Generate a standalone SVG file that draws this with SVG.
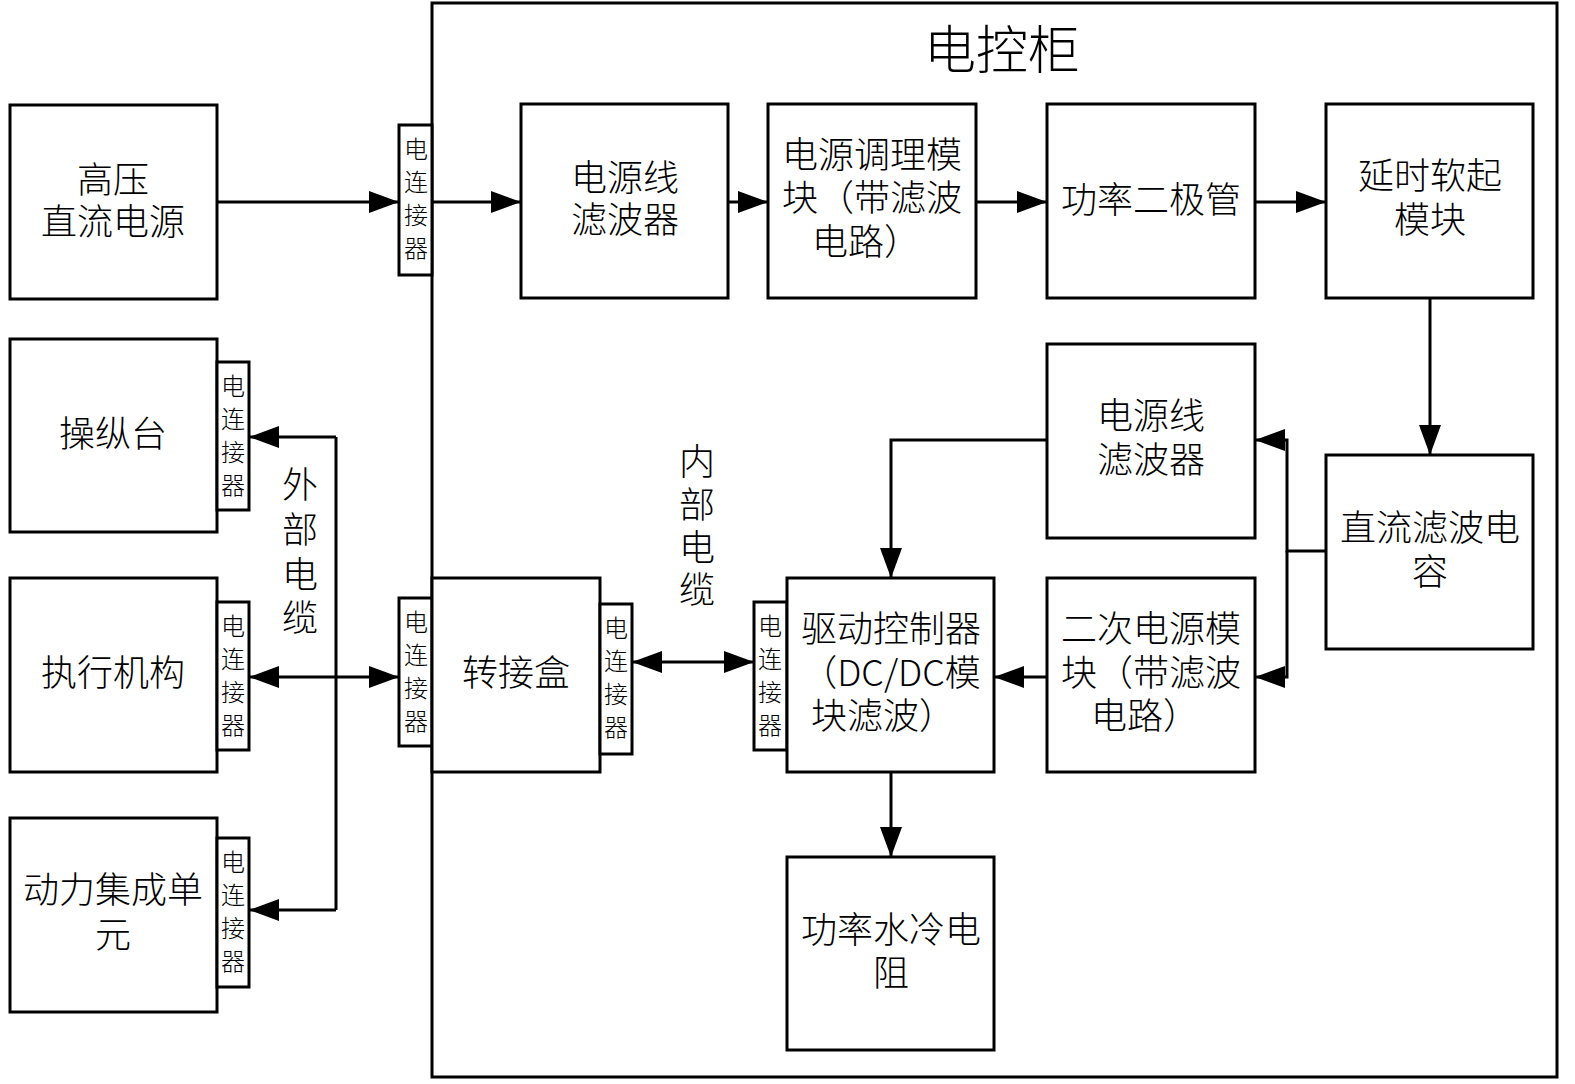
<svg xmlns="http://www.w3.org/2000/svg" width="1575" height="1084" viewBox="0 0 1575 1084">
<defs>
<marker id="arr" markerUnits="userSpaceOnUse" markerWidth="32" markerHeight="24" refX="30" refY="11" orient="auto-start-reverse">
<path d="M0,0 L30,11 L0,22 z" fill="#000"/>
</marker>
<style>
.box{fill:#fff;stroke:#000;stroke-width:3}
.cab{fill:none;stroke:#000;stroke-width:3}
.t{font-family:"Noto Sans CJK SC","Noto Sans CJK JP",sans-serif;font-size:36px;font-weight:300;text-anchor:middle;fill:#000}
.c{font-family:"Noto Sans CJK SC","Noto Sans CJK JP",sans-serif;font-size:24px;font-weight:300;text-anchor:middle;fill:#000}
.ln{fill:none;stroke:#000;stroke-width:3}
.a{fill:none;stroke:#000;stroke-width:3;marker-end:url(#arr)}
.aa{fill:none;stroke:#000;stroke-width:3;marker-end:url(#arr);marker-start:url(#arr)}
</style>
</defs>
<rect width="1575" height="1084" fill="#fff"/>

<g id="cabinet">
<rect class="cab" x="432" y="3" width="1125" height="1074"/>
<text class="t" x="1002" y="69" style="font-size:52px">电控柜</text>
</g>

<g id="connectors">
<path class="a" d="M217,202 H399"/>
<path class="a" d="M432,202 H521"/>
<path class="a" d="M728,202 H768"/>
<path class="a" d="M976,202 H1047"/>
<path class="a" d="M1255,202 H1326"/>
<path class="a" d="M1430,298 V455"/>
<path class="a" d="M1326,551 H1287 V440 H1255"/>
<path class="a" d="M1287,551 V677 H1255"/>
<path class="a" d="M1047,440 H891 V578"/>
<path class="a" d="M1047,677 H994"/>
<path class="a" d="M891,772 V857"/>
<path class="aa" d="M632,662 H754"/>
<path class="ln" d="M336,437 V910"/>
<path class="a" d="M336,437 H249"/>
<path class="a" d="M336,910 H249"/>
<path class="aa" d="M249,677 H399"/>
</g>

<g id="hv">
<rect class="box" x="10" y="105" width="207" height="194"/>
<text class="t"><tspan x="113" y="193">高压</tspan><tspan x="113" y="235">直流电源</tspan></text>
</g>

<g id="conn1">
<rect class="box" x="399" y="125" width="33" height="150"/>
<text class="c"><tspan x="416" y="158">电</tspan><tspan x="416" y="191">连</tspan><tspan x="416" y="224">接</tspan><tspan x="416" y="257">器</tspan></text>
</g>

<g id="filter1">
<rect class="box" x="521" y="104" width="207" height="194"/>
<text class="t"><tspan x="625" y="191">电源线</tspan><tspan x="625" y="233">滤波器</tspan></text>
</g>

<g id="cond">
<rect class="box" x="768" y="104" width="208" height="194"/>
<text class="t"><tspan x="872" y="168">电源调理模</tspan><tspan x="872" y="211">块（带滤波</tspan><tspan x="866" y="255">电路）</tspan></text>
</g>

<g id="diode">
<rect class="box" x="1047" y="104" width="208" height="194"/>
<text class="t" x="1151" y="213">功率二极管</text>
</g>

<g id="soft">
<rect class="box" x="1326" y="104" width="207" height="194"/>
<text class="t"><tspan x="1430" y="189">延时软起</tspan><tspan x="1430" y="233">模块</tspan></text>
</g>

<g id="filter2">
<rect class="box" x="1047" y="344" width="208" height="194"/>
<text class="t"><tspan x="1151" y="429">电源线</tspan><tspan x="1151" y="473">滤波器</tspan></text>
</g>

<g id="cap">
<rect class="box" x="1326" y="455" width="207" height="194"/>
<text class="t"><tspan x="1430" y="541">直流滤波电</tspan><tspan x="1430" y="585">容</tspan></text>
</g>

<g id="console">
<rect class="box" x="10" y="339" width="207" height="193"/>
<text class="t" x="113" y="447">操纵台</text>
<rect class="box" x="217" y="362" width="32" height="148"/>
<text class="c"><tspan x="233" y="395">电</tspan><tspan x="233" y="428">连</tspan><tspan x="233" y="461">接</tspan><tspan x="233" y="494">器</tspan></text>
</g>

<g id="actuator">
<rect class="box" x="10" y="578" width="207" height="194"/>
<text class="t" x="113" y="686">执行机构</text>
<rect class="box" x="217" y="602" width="32" height="148"/>
<text class="c"><tspan x="233" y="635">电</tspan><tspan x="233" y="668">连</tspan><tspan x="233" y="701">接</tspan><tspan x="233" y="734">器</tspan></text>
</g>

<g id="power">
<rect class="box" x="10" y="818" width="207" height="194"/>
<text class="t"><tspan x="113" y="903">动力集成单</tspan><tspan x="113" y="948">元</tspan></text>
<rect class="box" x="217" y="838" width="32" height="149"/>
<text class="c"><tspan x="233" y="871">电</tspan><tspan x="233" y="904">连</tspan><tspan x="233" y="937">接</tspan><tspan x="233" y="970">器</tspan></text>
</g>

<g id="extlabel">
<text class="t"><tspan x="300" y="498">外</tspan><tspan x="300" y="543">部</tspan><tspan x="300" y="588">电</tspan><tspan x="300" y="631">缆</tspan></text>
</g>

<g id="conn2">
<rect class="box" x="399" y="598" width="33" height="148"/>
<text class="c"><tspan x="416" y="631">电</tspan><tspan x="416" y="664">连</tspan><tspan x="416" y="697">接</tspan><tspan x="416" y="730">器</tspan></text>
</g>

<g id="junction">
<rect class="box" x="432" y="578" width="168" height="194"/>
<text class="t" x="516" y="686">转接盒</text>
<rect class="box" x="600" y="604" width="32" height="150"/>
<text class="c"><tspan x="616" y="637">电</tspan><tspan x="616" y="670">连</tspan><tspan x="616" y="703">接</tspan><tspan x="616" y="736">器</tspan></text>
</g>

<g id="intlabel">
<text class="t"><tspan x="697" y="475">内</tspan><tspan x="697" y="518">部</tspan><tspan x="697" y="561">电</tspan><tspan x="697" y="603">缆</tspan></text>
</g>

<g id="driver">
<rect class="box" x="754" y="602" width="33" height="148"/>
<text class="c"><tspan x="770" y="635">电</tspan><tspan x="770" y="668">连</tspan><tspan x="770" y="701">接</tspan><tspan x="770" y="734">器</tspan></text>
<rect class="box" x="787" y="578" width="207" height="194"/>
<text class="t"><tspan x="891" y="642">驱动控制器</tspan><tspan x="891" y="686">（DC/DC模</tspan><tspan x="883" y="729">块滤波）</tspan></text>
</g>

<g id="secondary">
<rect class="box" x="1047" y="578" width="208" height="194"/>
<text class="t"><tspan x="1151" y="642">二次电源模</tspan><tspan x="1151" y="686">块（带滤波</tspan><tspan x="1145" y="729">电路）</tspan></text>
</g>

<g id="resistor">
<rect class="box" x="787" y="857" width="207" height="193"/>
<text class="t"><tspan x="891" y="943">功率水冷电</tspan><tspan x="891" y="986">阻</tspan></text>
</g>
</svg>
